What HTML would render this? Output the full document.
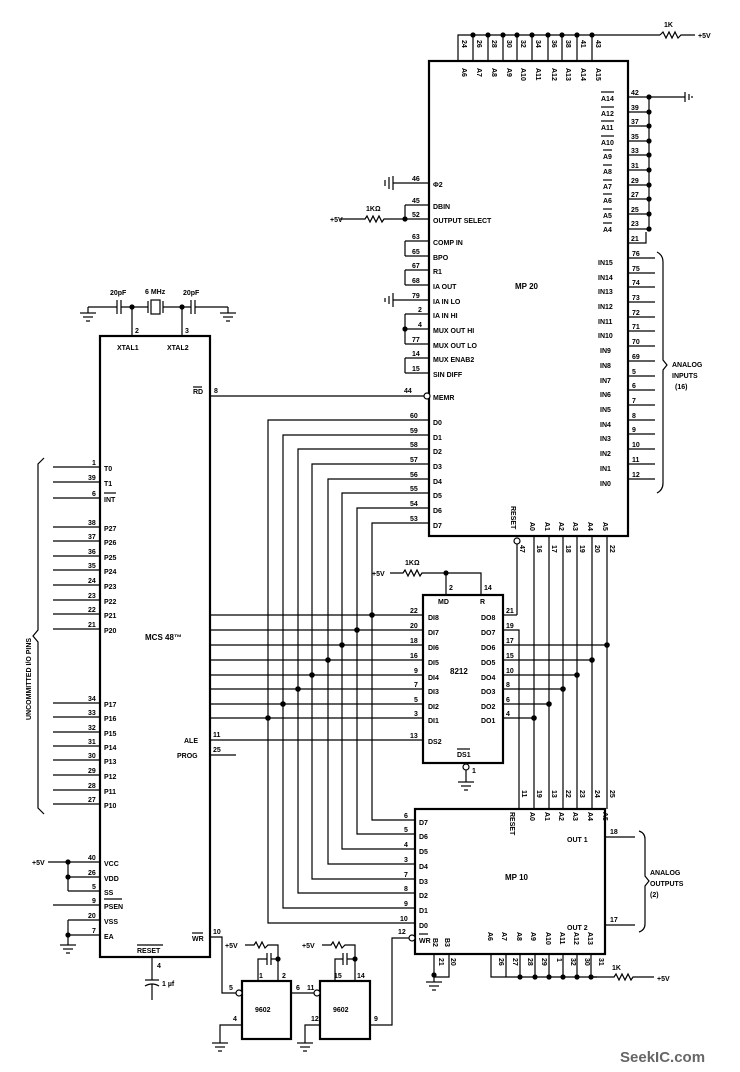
<!DOCTYPE html>
<html><head><meta charset="utf-8"><style>
html,body{margin:0;padding:0;background:#fff}
svg{display:block}
text{font-family:"Liberation Sans",sans-serif;font-size:8px;font-weight:bold;fill:#000}
.s{font-size:7px}
line,polyline,path,rect{stroke:#000;fill:none;stroke-width:1.2}
.b{stroke-width:2.2}
circle{fill:#000;stroke:none}
circle.o{fill:#fff;stroke:#000;stroke-width:1.2}
</style></head><body>
<svg width="740" height="1072" viewBox="0 0 740 1072" xmlns="http://www.w3.org/2000/svg">
<!-- MP20 box -->
<rect class="b" x="429" y="61" width="199" height="475"/>
<text x="515" y="289">MP 20</text>
<!-- top pins -->
<polyline points="458,61 458,35 660,35"/>
<g>
<line x1="473" y1="35" x2="473" y2="61"/><line x1="488" y1="35" x2="488" y2="61"/><line x1="503" y1="35" x2="503" y2="61"/><line x1="517" y1="35" x2="517" y2="61"/><line x1="532" y1="35" x2="532" y2="61"/><line x1="548" y1="35" x2="548" y2="61"/><line x1="562" y1="35" x2="562" y2="61"/><line x1="577" y1="35" x2="577" y2="61"/><line x1="592" y1="35" x2="592" y2="61"/>
<circle cx="473" cy="35" r="2.6"/><circle cx="488" cy="35" r="2.6"/><circle cx="503" cy="35" r="2.6"/><circle cx="517" cy="35" r="2.6"/><circle cx="532" cy="35" r="2.6"/><circle cx="548" cy="35" r="2.6"/><circle cx="562" cy="35" r="2.6"/><circle cx="577" cy="35" r="2.6"/><circle cx="592" cy="35" r="2.6"/>
</g>
<g class="s">
<text transform="translate(462,40) rotate(90)" class="s">24</text><text transform="translate(477,40) rotate(90)" class="s">26</text><text transform="translate(492,40) rotate(90)" class="s">28</text><text transform="translate(507,40) rotate(90)" class="s">30</text><text transform="translate(521,40) rotate(90)" class="s">32</text><text transform="translate(536,40) rotate(90)" class="s">34</text><text transform="translate(552,40) rotate(90)" class="s">36</text><text transform="translate(566,40) rotate(90)" class="s">38</text><text transform="translate(581,40) rotate(90)" class="s">41</text><text transform="translate(596,40) rotate(90)" class="s">43</text>
<text transform="translate(462,68) rotate(90)" class="s">A6</text><text transform="translate(477,68) rotate(90)" class="s">A7</text><text transform="translate(492,68) rotate(90)" class="s">A8</text><text transform="translate(507,68) rotate(90)" class="s">A9</text><text transform="translate(521,68) rotate(90)" class="s">A10</text><text transform="translate(536,68) rotate(90)" class="s">A11</text><text transform="translate(552,68) rotate(90)" class="s">A12</text><text transform="translate(566,68) rotate(90)" class="s">A13</text><text transform="translate(581,68) rotate(90)" class="s">A14</text><text transform="translate(596,68) rotate(90)" class="s">A15</text>
</g>
<path d="M660,35 l3,-3 l3,6 l3,-6 l3,6 l3,-6 l3,6 l3,-3 H695"/>
<text x="664" y="27" class="s">1K</text><text x="698" y="38" class="s">+5V</text>
<!-- right A-bar pins -->
<g>
<line x1="628" y1="97" x2="685" y2="97"/><line x1="685" y1="92" x2="685" y2="102"/><line x1="689" y1="94" x2="689" y2="100"/><line x1="692" y1="96" x2="692" y2="98"/>
<line x1="649" y1="97" x2="649" y2="229"/>
<line x1="628" y1="112" x2="649" y2="112"/><line x1="628" y1="126" x2="649" y2="126"/><line x1="628" y1="141" x2="649" y2="141"/><line x1="628" y1="155" x2="649" y2="155"/><line x1="628" y1="170" x2="649" y2="170"/><line x1="628" y1="185" x2="649" y2="185"/><line x1="628" y1="199" x2="649" y2="199"/><line x1="628" y1="214" x2="649" y2="214"/><line x1="628" y1="229" x2="649" y2="229"/><polyline points="628,243 646,243 646,232"/>
<circle cx="649" cy="97" r="2.6"/><circle cx="649" cy="112" r="2.6"/><circle cx="649" cy="126" r="2.6"/><circle cx="649" cy="141" r="2.6"/><circle cx="649" cy="155" r="2.6"/><circle cx="649" cy="170" r="2.6"/><circle cx="649" cy="185" r="2.6"/><circle cx="649" cy="199" r="2.6"/><circle cx="649" cy="214" r="2.6"/><circle cx="649" cy="229" r="2.6"/>
</g>
<g class="s">
<text x="631" y="95" class="s">42</text><text x="631" y="110" class="s">39</text><text x="631" y="124" class="s">37</text><text x="631" y="139" class="s">35</text><text x="631" y="153" class="s">33</text><text x="631" y="168" class="s">31</text><text x="631" y="183" class="s">29</text><text x="631" y="197" class="s">27</text><text x="631" y="212" class="s">25</text><text x="631" y="226" class="s">23</text><text x="631" y="241" class="s">21</text>
<text x="601" y="101" class="s">A14</text><text x="601" y="116" class="s">A12</text><text x="601" y="130" class="s">A11</text><text x="601" y="145" class="s">A10</text><text x="603" y="159" class="s">A9</text><text x="603" y="174" class="s">A8</text><text x="603" y="189" class="s">A7</text><text x="603" y="203" class="s">A6</text><text x="603" y="218" class="s">A5</text><text x="603" y="232" class="s">A4</text>
</g>
<g>
<line x1="601" y1="92" x2="614" y2="92"/><line x1="601" y1="107" x2="614" y2="107"/><line x1="601" y1="121" x2="614" y2="121"/><line x1="601" y1="136" x2="614" y2="136"/><line x1="603" y1="150" x2="612" y2="150"/><line x1="603" y1="165" x2="612" y2="165"/><line x1="603" y1="180" x2="612" y2="180"/><line x1="603" y1="194" x2="612" y2="194"/><line x1="603" y1="209" x2="612" y2="209"/><line x1="603" y1="223" x2="612" y2="223"/>
</g>
<!-- IN pins -->
<g>
<line x1="628" y1="258" x2="655" y2="258"/><line x1="628" y1="273" x2="655" y2="273"/><line x1="628" y1="287" x2="655" y2="287"/><line x1="628" y1="302" x2="655" y2="302"/><line x1="628" y1="317" x2="655" y2="317"/><line x1="628" y1="331" x2="655" y2="331"/><line x1="628" y1="346" x2="655" y2="346"/><line x1="628" y1="361" x2="655" y2="361"/><line x1="628" y1="376" x2="655" y2="376"/><line x1="628" y1="390" x2="655" y2="390"/><line x1="628" y1="405" x2="655" y2="405"/><line x1="628" y1="420" x2="655" y2="420"/><line x1="628" y1="434" x2="655" y2="434"/><line x1="628" y1="449" x2="655" y2="449"/><line x1="628" y1="464" x2="655" y2="464"/><line x1="628" y1="479" x2="655" y2="479"/>
</g>
<g class="s">
<text x="632" y="256" class="s">76</text><text x="632" y="271" class="s">75</text><text x="632" y="285" class="s">74</text><text x="632" y="300" class="s">73</text><text x="632" y="315" class="s">72</text><text x="632" y="329" class="s">71</text><text x="632" y="344" class="s">70</text><text x="632" y="359" class="s">69</text><text x="632" y="374" class="s">5</text><text x="632" y="388" class="s">6</text><text x="632" y="403" class="s">7</text><text x="632" y="418" class="s">8</text><text x="632" y="432" class="s">9</text><text x="632" y="447" class="s">10</text><text x="632" y="462" class="s">11</text><text x="632" y="477" class="s">12</text>
<text x="598" y="265" class="s">IN15</text><text x="598" y="280" class="s">IN14</text><text x="598" y="294" class="s">IN13</text><text x="598" y="309" class="s">IN12</text><text x="598" y="324" class="s">IN11</text><text x="598" y="338" class="s">IN10</text><text x="600" y="353" class="s">IN9</text><text x="600" y="368" class="s">IN8</text><text x="600" y="383" class="s">IN7</text><text x="600" y="397" class="s">IN6</text><text x="600" y="412" class="s">IN5</text><text x="600" y="427" class="s">IN4</text><text x="600" y="441" class="s">IN3</text><text x="600" y="456" class="s">IN2</text><text x="600" y="471" class="s">IN1</text><text x="600" y="486" class="s">IN0</text>
</g>
<path d="M657,252 q6,3 6,10 v98 l4,5 l-4,5 v113 q0,7 -6,10"/>
<text x="672" y="367" class="s">ANALOG</text><text x="672" y="378" class="s">INPUTS</text><text x="675" y="389" class="s">(16)</text>
<!-- left MP20 pins -->
<g>
<line x1="393" y1="183" x2="429" y2="183"/><line x1="389" y1="177" x2="389" y2="189"/><line x1="385" y1="180" x2="385" y2="186"/><line x1="393" y1="176" x2="393" y2="190"/>
<line x1="405" y1="205" x2="429" y2="205"/><line x1="405" y1="219" x2="429" y2="219"/><line x1="405" y1="205" x2="405" y2="219"/><circle cx="405" cy="219" r="2.6"/>
<path d="M340,219 H365 l2,-3 l3,6 l3,-6 l3,6 l3,-6 l3,6 l2,-3 H405"/>
<text x="330" y="222" class="s">+5V</text><text x="366" y="211" class="s">1KΩ</text>
<line x1="405" y1="241" x2="429" y2="241"/><line x1="405" y1="256" x2="429" y2="256"/><line x1="405" y1="241" x2="405" y2="256"/>
<line x1="405" y1="270" x2="429" y2="270"/><line x1="405" y1="285" x2="429" y2="285"/><line x1="405" y1="270" x2="405" y2="285"/>
<line x1="393" y1="300" x2="429" y2="300"/><line x1="393" y1="293" x2="393" y2="307"/><line x1="389" y1="296" x2="389" y2="304"/><line x1="385" y1="298" x2="385" y2="302"/>
<line x1="405" y1="314" x2="429" y2="314"/><line x1="405" y1="329" x2="429" y2="329"/><line x1="405" y1="344" x2="429" y2="344"/><line x1="405" y1="314" x2="405" y2="344"/><circle cx="405" cy="329" r="2.6"/>
<line x1="405" y1="358" x2="429" y2="358"/><line x1="405" y1="373" x2="429" y2="373"/><line x1="405" y1="358" x2="405" y2="373"/>
<line x1="210" y1="396" x2="424" y2="396"/><circle class="o" cx="427" cy="396" r="3"/>
</g>
<g class="s">
<text x="412" y="181" class="s">46</text><text x="412" y="203" class="s">45</text><text x="412" y="217" class="s">52</text><text x="412" y="239" class="s">63</text><text x="412" y="254" class="s">65</text><text x="412" y="268" class="s">67</text><text x="412" y="283" class="s">68</text><text x="412" y="298" class="s">79</text><text x="418" y="312" class="s">2</text><text x="418" y="327" class="s">4</text><text x="412" y="342" class="s">77</text><text x="412" y="356" class="s">14</text><text x="412" y="371" class="s">15</text><text x="404" y="393" class="s">44</text>
<text x="433" y="187" class="s">Φ2</text><text x="433" y="209" class="s">DBIN</text><text x="433" y="223" class="s">OUTPUT SELECT</text><text x="433" y="245" class="s">COMP IN</text><text x="433" y="260" class="s">BPO</text><text x="433" y="274" class="s">R1</text><text x="433" y="289" class="s">IA OUT</text><text x="433" y="304" class="s">IA IN LO</text><text x="433" y="318" class="s">IA IN HI</text><text x="433" y="333" class="s">MUX OUT HI</text><text x="433" y="348" class="s">MUX OUT LO</text><text x="433" y="362" class="s">MUX ENAB2</text><text x="433" y="377" class="s">SIN DIFF</text><text x="433" y="400" class="s">MEMR</text>
<text x="433" y="425" class="s">D0</text><text x="433" y="440" class="s">D1</text><text x="433" y="454" class="s">D2</text><text x="433" y="469" class="s">D3</text><text x="433" y="484" class="s">D4</text><text x="433" y="498" class="s">D5</text><text x="433" y="513" class="s">D6</text><text x="433" y="528" class="s">D7</text>
<text x="410" y="418" class="s">60</text><text x="410" y="433" class="s">59</text><text x="410" y="447" class="s">58</text><text x="410" y="462" class="s">57</text><text x="410" y="477" class="s">56</text><text x="410" y="491" class="s">55</text><text x="410" y="506" class="s">54</text><text x="410" y="521" class="s">53</text>
</g>
<!-- data bus verticals -->
<g>
<polyline points="429,420 268,420 268,923 415,923"/>
<polyline points="429,435 283,435 283,908 415,908"/>
<polyline points="429,449 298,449 298,893 415,893"/>
<polyline points="429,464 312,464 312,879 415,879"/>
<polyline points="429,479 328,479 328,864 415,864"/>
<polyline points="429,493 342,493 342,849 415,849"/>
<polyline points="429,508 357,508 357,834 415,834"/>
<polyline points="429,523 372,523 372,820 415,820"/>
</g>
<!-- MP20 bottom pins -->
<g>
<circle class="o" cx="517" cy="541" r="3"/>
<line x1="517" y1="544" x2="517" y2="615"/>
<line x1="534" y1="536" x2="534" y2="809"/><line x1="549" y1="536" x2="549" y2="809"/><line x1="563" y1="536" x2="563" y2="809"/><line x1="577" y1="536" x2="577" y2="809"/><line x1="592" y1="536" x2="592" y2="809"/><line x1="607" y1="536" x2="607" y2="809"/>
</g>
<g class="s">
<text transform="translate(520,545) rotate(90)" class="s">47</text><text transform="translate(537,545) rotate(90)" class="s">16</text><text transform="translate(552,545) rotate(90)" class="s">17</text><text transform="translate(566,545) rotate(90)" class="s">18</text><text transform="translate(580,545) rotate(90)" class="s">19</text><text transform="translate(595,545) rotate(90)" class="s">20</text><text transform="translate(610,545) rotate(90)" class="s">22</text>
<text transform="translate(511,506) rotate(90)" class="s">RESET</text>
<text transform="translate(530,522) rotate(90)" class="s">A0</text><text transform="translate(545,522) rotate(90)" class="s">A1</text><text transform="translate(559,522) rotate(90)" class="s">A2</text><text transform="translate(573,522) rotate(90)" class="s">A3</text><text transform="translate(588,522) rotate(90)" class="s">A4</text><text transform="translate(603,522) rotate(90)" class="s">A5</text>
</g>
<!-- 8212 -->
<rect class="b" x="423" y="595" width="80" height="168"/>
<text x="450" y="674">8212</text>
<polyline points="446,595 446,573 481,573 481,595"/>
<path d="M390,573 H403 l2,-3 l3,6 l3,-6 l3,6 l3,-6 l3,6 l2,-3 H446"/><circle cx="446" cy="573" r="2.6"/>
<text x="372" y="576" class="s">+5V</text><text x="405" y="565" class="s">1KΩ</text>
<text x="449" y="590" class="s">2</text><text x="484" y="590" class="s">14</text>
<text x="438" y="604" class="s">MD</text><text x="480" y="604" class="s">R</text>
<g>
<line x1="210" y1="615" x2="423" y2="615"/><line x1="210" y1="630" x2="423" y2="630"/><line x1="210" y1="645" x2="423" y2="645"/><line x1="210" y1="660" x2="423" y2="660"/><line x1="210" y1="675" x2="423" y2="675"/><line x1="210" y1="689" x2="423" y2="689"/><line x1="210" y1="704" x2="423" y2="704"/><line x1="210" y1="718" x2="423" y2="718"/><line x1="210" y1="740" x2="423" y2="740"/><line x1="210" y1="755" x2="236" y2="755"/>
<circle cx="372" cy="615" r="2.8"/><circle cx="357" cy="630" r="2.8"/><circle cx="342" cy="645" r="2.8"/><circle cx="328" cy="660" r="2.8"/><circle cx="312" cy="675" r="2.8"/><circle cx="298" cy="689" r="2.8"/><circle cx="283" cy="704" r="2.8"/><circle cx="268" cy="718" r="2.8"/>
<line x1="503" y1="615" x2="517" y2="615"/>
<polyline points="503,630 519,630 519,809"/>
<line x1="503" y1="645" x2="607" y2="645"/><line x1="503" y1="660" x2="592" y2="660"/><line x1="503" y1="675" x2="577" y2="675"/><line x1="503" y1="689" x2="563" y2="689"/><line x1="503" y1="704" x2="549" y2="704"/><line x1="503" y1="718" x2="534" y2="718"/>
<circle cx="607" cy="645" r="2.8"/><circle cx="592" cy="660" r="2.8"/><circle cx="577" cy="675" r="2.8"/><circle cx="563" cy="689" r="2.8"/><circle cx="549" cy="704" r="2.8"/><circle cx="534" cy="718" r="2.8"/>
<circle class="o" cx="466" cy="767" r="3"/><line x1="466" y1="770" x2="466" y2="782"/><line x1="458" y1="782" x2="474" y2="782"/><line x1="461" y1="786" x2="471" y2="786"/><line x1="464" y1="790" x2="468" y2="790"/>
</g>
<g class="s">
<text x="410" y="613" class="s">22</text><text x="410" y="628" class="s">20</text><text x="410" y="643" class="s">18</text><text x="410" y="658" class="s">16</text><text x="414" y="673" class="s">9</text><text x="414" y="687" class="s">7</text><text x="414" y="702" class="s">5</text><text x="414" y="716" class="s">3</text><text x="410" y="738" class="s">13</text>
<text x="428" y="620" class="s">DI8</text><text x="428" y="635" class="s">DI7</text><text x="428" y="650" class="s">DI6</text><text x="428" y="665" class="s">DI5</text><text x="428" y="680" class="s">DI4</text><text x="428" y="694" class="s">DI3</text><text x="428" y="709" class="s">DI2</text><text x="428" y="723" class="s">DI1</text><text x="428" y="744" class="s">DS2</text>
<text x="481" y="620" class="s">DO8</text><text x="481" y="635" class="s">DO7</text><text x="481" y="650" class="s">DO6</text><text x="481" y="665" class="s">DO5</text><text x="481" y="680" class="s">DO4</text><text x="481" y="694" class="s">DO3</text><text x="481" y="709" class="s">DO2</text><text x="481" y="723" class="s">DO1</text><text x="457" y="757" class="s">DS1</text>
<text x="506" y="613" class="s">21</text><text x="506" y="628" class="s">19</text><text x="506" y="643" class="s">17</text><text x="506" y="658" class="s">15</text><text x="506" y="673" class="s">10</text><text x="506" y="687" class="s">8</text><text x="506" y="702" class="s">6</text><text x="506" y="716" class="s">4</text><text x="472" y="773" class="s">1</text>
</g>
<line x1="457" y1="749" x2="470" y2="749"/>
<!-- MCS48 -->
<rect class="b" x="100" y="336" width="110" height="621"/>
<text x="145" y="640">MCS 48™</text>
<text x="117" y="350" class="s">XTAL1</text><text x="167" y="350" class="s">XTAL2</text>
<polyline points="132,336 132,307"/><polyline points="182,336 182,307"/>
<text x="135" y="333" class="s">2</text><text x="185" y="333" class="s">3</text>
<line x1="88" y1="307" x2="117" y2="307"/><line x1="117" y1="300" x2="117" y2="314"/><line x1="121" y1="300" x2="121" y2="314"/><line x1="121" y1="307" x2="148" y2="307"/>
<line x1="148" y1="301" x2="148" y2="313"/><rect x="151" y="300" width="9" height="14"/><line x1="163" y1="301" x2="163" y2="313"/><line x1="163" y1="307" x2="191" y2="307"/>
<line x1="191" y1="300" x2="191" y2="314"/><line x1="195" y1="300" x2="195" y2="314"/><line x1="195" y1="307" x2="228" y2="307"/>
<circle cx="132" cy="307" r="2.6"/><circle cx="182" cy="307" r="2.6"/>
<line x1="88" y1="307" x2="88" y2="313"/><line x1="80" y1="313" x2="96" y2="313"/><line x1="83" y1="317" x2="93" y2="317"/><line x1="86" y1="321" x2="90" y2="321"/>
<line x1="228" y1="307" x2="228" y2="313"/><line x1="220" y1="313" x2="236" y2="313"/><line x1="223" y1="317" x2="233" y2="317"/><line x1="226" y1="321" x2="230" y2="321"/>
<text x="110" y="295" class="s">20pF</text><text x="145" y="294" class="s">6 MHz</text><text x="183" y="295" class="s">20pF</text>
<text x="193" y="394" class="s">RD</text><line x1="193" y1="387" x2="202" y2="387"/><text x="214" y="393" class="s">8</text>
<g>
<line x1="53" y1="467" x2="100" y2="467"/><line x1="53" y1="482" x2="100" y2="482"/><line x1="53" y1="498" x2="100" y2="498"/>
<line x1="53" y1="527" x2="100" y2="527"/><line x1="53" y1="541" x2="100" y2="541"/><line x1="53" y1="556" x2="100" y2="556"/><line x1="53" y1="570" x2="100" y2="570"/><line x1="53" y1="585" x2="100" y2="585"/><line x1="53" y1="600" x2="100" y2="600"/><line x1="53" y1="614" x2="100" y2="614"/><line x1="53" y1="629" x2="100" y2="629"/>
<line x1="53" y1="703" x2="100" y2="703"/><line x1="53" y1="717" x2="100" y2="717"/><line x1="53" y1="732" x2="100" y2="732"/><line x1="53" y1="746" x2="100" y2="746"/><line x1="53" y1="760" x2="100" y2="760"/><line x1="53" y1="775" x2="100" y2="775"/><line x1="53" y1="790" x2="100" y2="790"/><line x1="53" y1="804" x2="100" y2="804"/>
</g>
<g class="s">
<text x="92" y="465" class="s">1</text><text x="88" y="480" class="s">39</text><text x="92" y="496" class="s">6</text>
<text x="88" y="525" class="s">38</text><text x="88" y="539" class="s">37</text><text x="88" y="554" class="s">36</text><text x="88" y="568" class="s">35</text><text x="88" y="583" class="s">24</text><text x="88" y="598" class="s">23</text><text x="88" y="612" class="s">22</text><text x="88" y="627" class="s">21</text>
<text x="88" y="701" class="s">34</text><text x="88" y="715" class="s">33</text><text x="88" y="730" class="s">32</text><text x="88" y="744" class="s">31</text><text x="88" y="758" class="s">30</text><text x="88" y="773" class="s">29</text><text x="88" y="788" class="s">28</text><text x="88" y="802" class="s">27</text>
<text x="104" y="471" class="s">T0</text><text x="104" y="486" class="s">T1</text><text x="104" y="502" class="s">INT</text>
<text x="104" y="531" class="s">P27</text><text x="104" y="545" class="s">P26</text><text x="104" y="560" class="s">P25</text><text x="104" y="574" class="s">P24</text><text x="104" y="589" class="s">P23</text><text x="104" y="604" class="s">P22</text><text x="104" y="618" class="s">P21</text><text x="104" y="633" class="s">P20</text>
<text x="104" y="707" class="s">P17</text><text x="104" y="721" class="s">P16</text><text x="104" y="736" class="s">P15</text><text x="104" y="750" class="s">P14</text><text x="104" y="764" class="s">P13</text><text x="104" y="779" class="s">P12</text><text x="104" y="794" class="s">P11</text><text x="104" y="808" class="s">P10</text>
</g>
<line x1="104" y1="493" x2="116" y2="493"/>
<path d="M44,458 l-6,6 v166 l-5,6 l5,6 v166 l6,6"/>
<text transform="translate(31,720) rotate(-90)" class="s">UNCOMMITTED I/O PINS</text>
<!-- power pins -->
<g>
<line x1="48" y1="862" x2="100" y2="862"/><line x1="68" y1="877" x2="100" y2="877"/><line x1="68" y1="891" x2="100" y2="891"/><line x1="68" y1="862" x2="68" y2="891"/>
<circle cx="68" cy="862" r="2.6"/><circle cx="68" cy="877" r="2.6"/>
<line x1="53" y1="905" x2="100" y2="905"/>
<line x1="68" y1="920" x2="100" y2="920"/><line x1="68" y1="935" x2="100" y2="935"/><line x1="68" y1="920" x2="68" y2="945"/><circle cx="68" cy="935" r="2.6"/>
<line x1="60" y1="945" x2="76" y2="945"/><line x1="63" y1="949" x2="73" y2="949"/><line x1="66" y1="953" x2="70" y2="953"/>
</g>
<g class="s">
<text x="32" y="865" class="s">+5V</text>
<text x="88" y="860" class="s">40</text><text x="88" y="875" class="s">26</text><text x="92" y="889" class="s">5</text><text x="92" y="903" class="s">9</text><text x="88" y="918" class="s">20</text><text x="92" y="933" class="s">7</text>
<text x="104" y="866" class="s">VCC</text><text x="104" y="881" class="s">VDD</text><text x="104" y="895" class="s">SS</text><text x="104" y="909" class="s">PSEN</text><text x="104" y="924" class="s">VSS</text><text x="104" y="939" class="s">EA</text>
<text x="184" y="743" class="s">ALE</text><text x="177" y="758" class="s">PROG</text>
<text x="213" y="737" class="s">11</text><text x="213" y="752" class="s">25</text>
<text x="192" y="941" class="s">WR</text><text x="213" y="934" class="s">10</text>
<text x="137" y="953" class="s">RESET</text><text x="157" y="968" class="s">4</text><text x="162" y="986" class="s">1 µf</text>
</g>
<line x1="104" y1="899" x2="122" y2="899"/><line x1="192" y1="933" x2="203" y2="933"/><line x1="137" y1="945" x2="163" y2="945"/>
<line x1="152" y1="957" x2="152" y2="980"/><line x1="145" y1="980" x2="159" y2="980"/><path d="M145,986 q7,-4 14,0"/><line x1="152" y1="984" x2="152" y2="1000"/>
<!-- MP10 -->
<rect class="b" x="415" y="809" width="190" height="145"/>
<text x="505" y="880">MP 10</text>
<g class="s">
<text x="404" y="818" class="s">6</text><text x="404" y="832" class="s">5</text><text x="404" y="847" class="s">4</text><text x="404" y="862" class="s">3</text><text x="404" y="877" class="s">7</text><text x="404" y="891" class="s">8</text><text x="404" y="906" class="s">9</text><text x="400" y="921" class="s">10</text>
<text x="419" y="825" class="s">D7</text><text x="419" y="839" class="s">D6</text><text x="419" y="854" class="s">D5</text><text x="419" y="869" class="s">D4</text><text x="419" y="884" class="s">D3</text><text x="419" y="898" class="s">D2</text><text x="419" y="913" class="s">D1</text><text x="419" y="928" class="s">D0</text>
<text x="419" y="943" class="s">WR</text>
<text transform="translate(510,812) rotate(90)" class="s">RESET</text>
<text transform="translate(530,812) rotate(90)" class="s">A0</text><text transform="translate(545,812) rotate(90)" class="s">A1</text><text transform="translate(559,812) rotate(90)" class="s">A2</text><text transform="translate(573,812) rotate(90)" class="s">A3</text><text transform="translate(588,812) rotate(90)" class="s">A4</text><text transform="translate(603,812) rotate(90)" class="s">A5</text>
<text transform="translate(522,790) rotate(90)" class="s">11</text><text transform="translate(537,790) rotate(90)" class="s">19</text><text transform="translate(552,790) rotate(90)" class="s">13</text><text transform="translate(566,790) rotate(90)" class="s">22</text><text transform="translate(580,790) rotate(90)" class="s">23</text><text transform="translate(595,790) rotate(90)" class="s">24</text><text transform="translate(610,790) rotate(90)" class="s">25</text>
<text x="567" y="842" class="s">OUT 1</text><text x="567" y="930" class="s">OUT 2</text>
<text x="610" y="834" class="s">18</text><text x="610" y="922" class="s">17</text>
<text transform="translate(433,938) rotate(90)" class="s">B2</text><text transform="translate(445,938) rotate(90)" class="s">B3</text>
<text transform="translate(439,958) rotate(90)" class="s">21</text><text transform="translate(451,958) rotate(90)" class="s">20</text>
<text transform="translate(488,932) rotate(90)" class="s">A6</text><text transform="translate(502,932) rotate(90)" class="s">A7</text><text transform="translate(517,932) rotate(90)" class="s">A8</text><text transform="translate(531,932) rotate(90)" class="s">A9</text><text transform="translate(546,932) rotate(90)" class="s">A10</text><text transform="translate(560,932) rotate(90)" class="s">A11</text><text transform="translate(574,932) rotate(90)" class="s">A12</text><text transform="translate(588,932) rotate(90)" class="s">A13</text>
<text transform="translate(499,958) rotate(90)" class="s">26</text><text transform="translate(513,958) rotate(90)" class="s">27</text><text transform="translate(528,958) rotate(90)" class="s">28</text><text transform="translate(542,958) rotate(90)" class="s">29</text><text transform="translate(557,958) rotate(90)" class="s">1</text><text transform="translate(571,958) rotate(90)" class="s">32</text><text transform="translate(585,958) rotate(90)" class="s">30</text><text transform="translate(599,958) rotate(90)" class="s">31</text>
<text x="612" y="970" class="s">1K</text><text x="657" y="981" class="s">+5V</text>
<text x="650" y="875" class="s">ANALOG</text><text x="650" y="886" class="s">OUTPUTS</text><text x="650" y="897" class="s">(2)</text>
</g>
<line x1="605" y1="837" x2="635" y2="837"/><line x1="605" y1="925" x2="635" y2="925"/>
<path d="M639,831 q6,2 6,8 v37 l4,5 l-4,5 v38 q0,6 -6,8"/>
<line x1="419" y1="934" x2="428" y2="934"/>
<!-- B2 B3 -->
<polyline points="434,954 434,977 449,977 449,954"/><circle cx="434" cy="975" r="2.6"/><line x1="434" y1="977" x2="434" y2="982"/><line x1="426" y1="982" x2="442" y2="982"/><line x1="429" y1="986" x2="439" y2="986"/><line x1="432" y1="990" x2="436" y2="990"/>
<!-- A6-A13 bus -->
<polyline points="491,954 491,977 597,977"/>
<line x1="506" y1="954" x2="506" y2="977"/><line x1="520" y1="954" x2="520" y2="977"/><line x1="535" y1="954" x2="535" y2="977"/><line x1="549" y1="954" x2="549" y2="977"/><line x1="563" y1="954" x2="563" y2="977"/><line x1="577" y1="954" x2="577" y2="977"/><line x1="591" y1="954" x2="591" y2="977"/>
<circle cx="520" cy="977" r="2.6"/><circle cx="535" cy="977" r="2.6"/><circle cx="549" cy="977" r="2.6"/><circle cx="563" cy="977" r="2.6"/><circle cx="577" cy="977" r="2.6"/><circle cx="591" cy="977" r="2.6"/>
<path d="M591,977 H614 l2,-3 l3,6 l3,-6 l3,6 l3,-6 l3,6 l2,-3 H654"/>
<!-- WR path -->
<circle class="o" cx="412" cy="938" r="3"/><text x="398" y="934" class="s">12</text>
<polyline points="409,938 392,938 392,1025 370,1025"/><text x="374" y="1021" class="s">9</text>
<!-- 9602s -->
<rect class="b" x="242" y="981" width="49" height="58"/><text x="255" y="1012" class="s">9602</text>
<rect class="b" x="320" y="981" width="50" height="58"/><text x="333" y="1012" class="s">9602</text>
<polyline points="210,937 222,937 222,993 236,993"/><circle class="o" cx="239" cy="993" r="3"/><text x="229" y="990" class="s">5</text>
<polyline points="242,1025 220,1025 220,1043"/><line x1="212" y1="1043" x2="228" y2="1043"/><line x1="215" y1="1047" x2="225" y2="1047"/><line x1="218" y1="1051" x2="222" y2="1051"/><text x="233" y="1021" class="s">4</text>
<line x1="291" y1="993" x2="314" y2="993"/><circle class="o" cx="317" cy="993" r="3"/><text x="296" y="990" class="s">6</text><text x="307" y="990" class="s">11</text>
<polyline points="320,1025 305,1025 305,1043"/><line x1="297" y1="1043" x2="313" y2="1043"/><line x1="300" y1="1047" x2="310" y2="1047"/><line x1="303" y1="1051" x2="307" y2="1051"/><text x="311" y="1021" class="s">12</text>
<!-- timing RC 1 -->
<polyline points="258,981 258,959 267,959"/><line x1="267" y1="953" x2="267" y2="965"/><line x1="271" y1="953" x2="271" y2="965"/><polyline points="271,959 278,959 278,981"/><circle cx="278" cy="959" r="2.6"/>
<path d="M245,945 H254 l2,-3 l3,6 l3,-6 l3,6 l3,-3 H278 V959"/><text x="225" y="948" class="s">+5V</text>
<text x="259" y="978" class="s">1</text><text x="282" y="978" class="s">2</text>
<!-- timing RC 2 -->
<polyline points="335,981 335,959 343,959"/><line x1="343" y1="953" x2="343" y2="965"/><line x1="347" y1="953" x2="347" y2="965"/><polyline points="347,959 355,959 355,981"/><circle cx="355" cy="959" r="2.6"/>
<path d="M322,945 H331 l2,-3 l3,6 l3,-6 l3,6 l3,-3 H355 V959"/><text x="302" y="948" class="s">+5V</text>
<text x="334" y="978" class="s">15</text><text x="357" y="978" class="s">14</text>
<text x="620" y="1062" style="font-size:15px;fill:#666">SeekIC.com</text>
</svg>
</body></html>
